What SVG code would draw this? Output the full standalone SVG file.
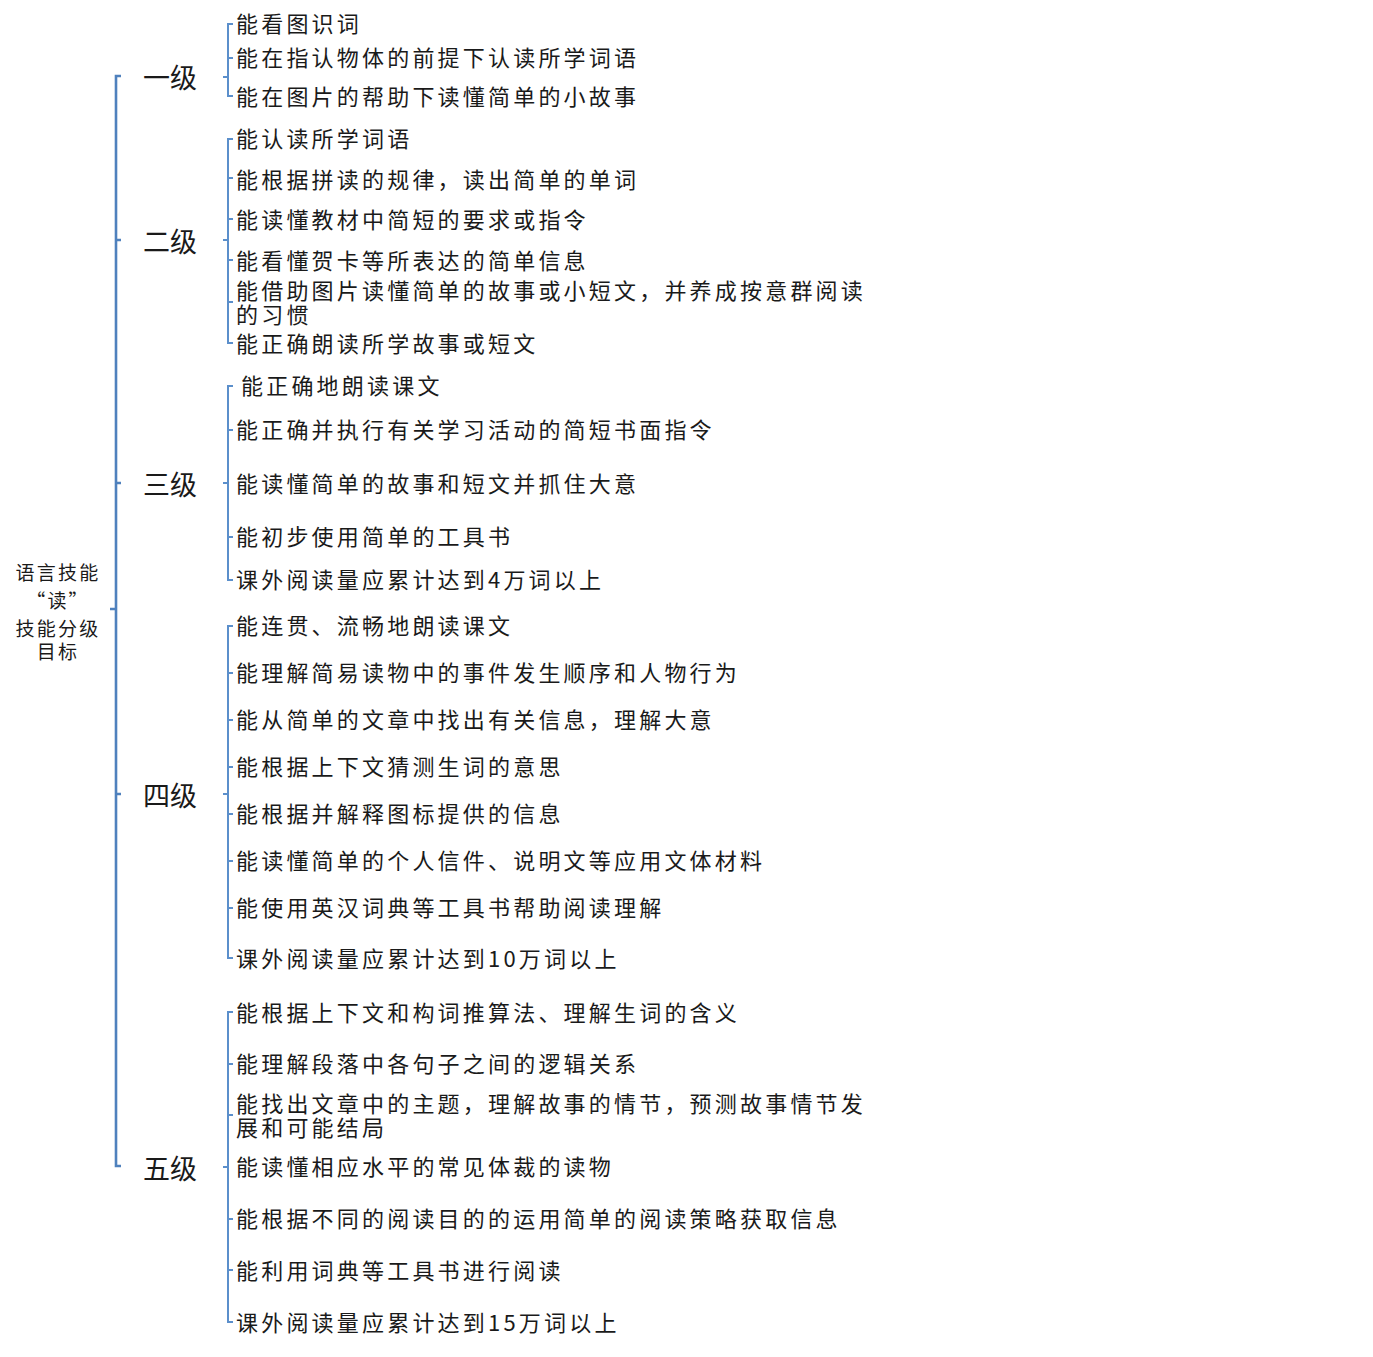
<svg xmlns="http://www.w3.org/2000/svg" width="1373" height="1357" viewBox="0 0 1373 1357">
<style>
.item{font-family:"Noto Sans CJK SC","Noto Sans",sans-serif;font-size:22px;letter-spacing:3.2px;fill:#1a1a1a;dominant-baseline:central}
.lvl{font-family:"Noto Sans CJK SC","Noto Sans",sans-serif;font-size:27px;fill:#1a1a1a;dominant-baseline:central}
.root{font-family:"Noto Sans CJK SC","Noto Sans",sans-serif;font-size:19px;letter-spacing:2.2px;fill:#1a1a1a;dominant-baseline:central;text-anchor:middle}
.br{fill:none;stroke:#5b8fcb;stroke-width:2}
.main{fill:none;stroke:#4f81bd;stroke-width:2.6}
</style>
<rect width="1373" height="1357" fill="#ffffff"/>
<g id="connectors">
<path class="main" d="M121,76 H116 V1166 H121 M116,240 H121 M116,483 H121 M116,794 H121 M116,609 H110"/>
<path class="br" d="M233,24 H228 V96 H233 M228,58 H233 M228,77 H223"/>
<path class="br" d="M233,139 H228 V343 H233 M228,178 H233 M228,219 H233 M228,260 H233 M228,302 H233 M228,240 H223"/>
<path class="br" d="M233,386 H228 V580 H233 M228,430 H233 M228,537 H233 M228,483 H223"/>
<path class="br" d="M233,626 H228 V958 H233 M228,673 H233 M228,720 H233 M228,767 H233 M228,814 H233 M228,861 H233 M228,908 H233 M228,794 H223"/>
<path class="br" d="M233,1012 H228 V1322 H233 M228,1064 H233 M228,1115 H233 M228,1219 H233 M228,1270 H233 M228,1167 H223"/>
</g>
<g id="root">
<text class="root" x="58" y="571">语言技能</text>
<text class="root" x="58" y="599">“读”</text>
<text class="root" x="58" y="627">技能分级</text>
<text class="root" x="58" y="650">目标</text>
</g>
<g id="level1">
<text class="lvl" x="143" y="76">一级</text>
</g>
<g id="level1-items">
<text class="item" x="236" y="22">能看图识词</text>
<text class="item" x="236" y="56">能在指认物体的前提下认读所学词语</text>
<text class="item" x="236" y="95">能在图片的帮助下读懂简单的小故事</text>
</g>
<g id="level2">
<text class="lvl" x="143" y="240">二级</text>
</g>
<g id="level2-items">
<text class="item" x="236" y="137">能认读所学词语</text>
<text class="item" x="236" y="178">能根据拼读的规律，读出简单的单词</text>
<text class="item" x="236" y="218">能读懂教材中简短的要求或指令</text>
<text class="item" x="236" y="259">能看懂贺卡等所表达的简单信息</text>
<text class="item" x="236" y="289">能借助图片读懂简单的故事或小短文，并养成按意群阅读</text>
<text class="item" x="236" y="313">的习惯</text>
<text class="item" x="236" y="342">能正确朗读所学故事或短文</text>
</g>
<g id="level3">
<text class="lvl" x="143" y="483">三级</text>
</g>
<g id="level3-items">
<text class="item" x="241" y="384">能正确地朗读课文</text>
<text class="item" x="236" y="428">能正确并执行有关学习活动的简短书面指令</text>
<text class="item" x="236" y="482">能读懂简单的故事和短文并抓住大意</text>
<text class="item" x="236" y="535">能初步使用简单的工具书</text>
<text class="item" x="236" y="578">课外阅读量应累计达到4万词以上</text>
</g>
<g id="level4">
<text class="lvl" x="143" y="794">四级</text>
</g>
<g id="level4-items">
<text class="item" x="236" y="624">能连贯、流畅地朗读课文</text>
<text class="item" x="236" y="671">能理解简易读物中的事件发生顺序和人物行为</text>
<text class="item" x="236" y="718">能从简单的文章中找出有关信息，理解大意</text>
<text class="item" x="236" y="765">能根据上下文猜测生词的意思</text>
<text class="item" x="236" y="812">能根据并解释图标提供的信息</text>
<text class="item" x="236" y="859">能读懂简单的个人信件、说明文等应用文体材料</text>
<text class="item" x="236" y="906">能使用英汉词典等工具书帮助阅读理解</text>
<text class="item" x="236" y="957">课外阅读量应累计达到10万词以上</text>
</g>
<g id="level5">
<text class="lvl" x="143" y="1167">五级</text>
</g>
<g id="level5-items">
<text class="item" x="236" y="1011">能根据上下文和构词推算法、理解生词的含义</text>
<text class="item" x="236" y="1062">能理解段落中各句子之间的逻辑关系</text>
<text class="item" x="236" y="1102">能找出文章中的主题，理解故事的情节，预测故事情节发</text>
<text class="item" x="236" y="1126">展和可能结局</text>
<text class="item" x="236" y="1165">能读懂相应水平的常见体裁的读物</text>
<text class="item" x="236" y="1217">能根据不同的阅读目的的运用简单的阅读策略获取信息</text>
<text class="item" x="236" y="1269">能利用词典等工具书进行阅读</text>
<text class="item" x="236" y="1321">课外阅读量应累计达到15万词以上</text>
</g>
</svg>
